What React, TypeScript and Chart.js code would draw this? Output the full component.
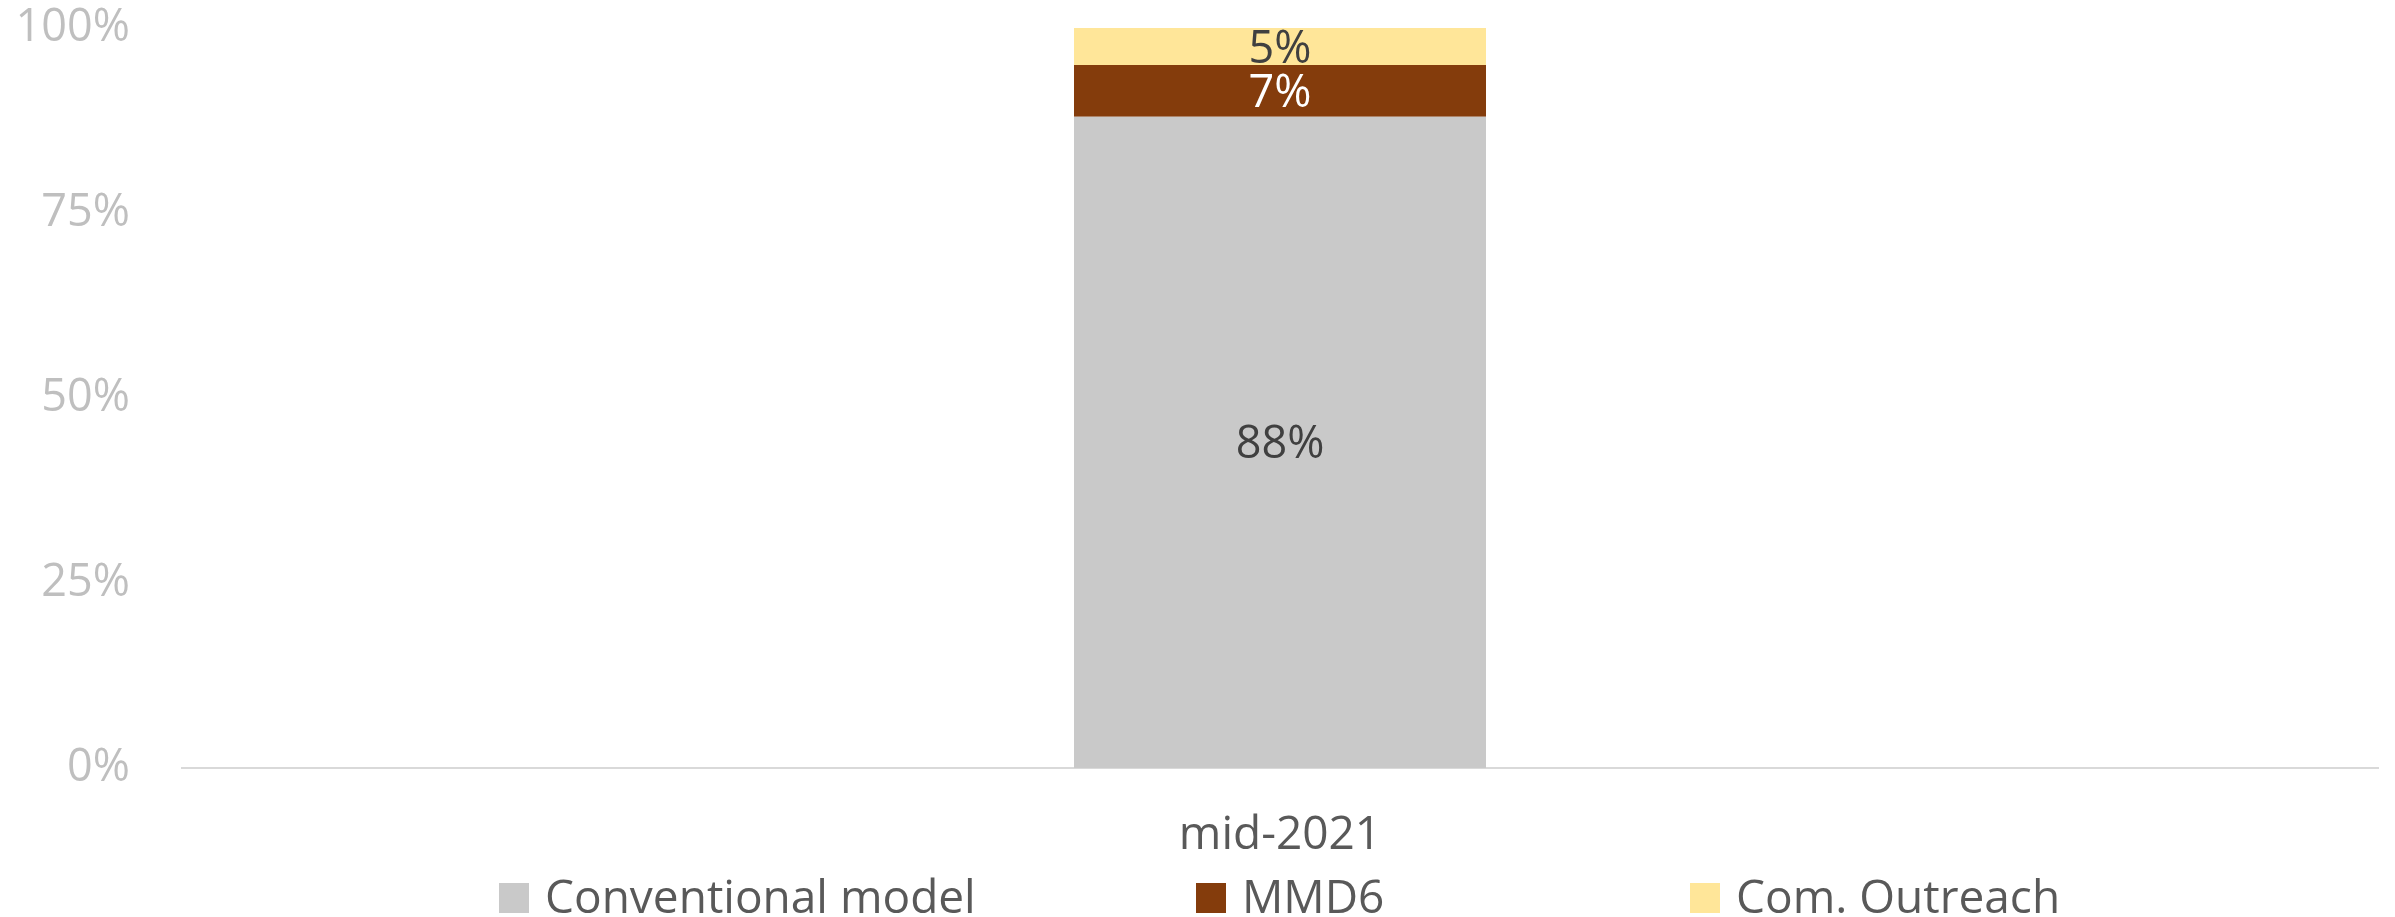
import React, { useEffect, useRef } from "react";
import { Chart, registerables } from "chart.js";

Chart.register(...registerables);

const categories = ["mid-2021"];
const seriesNames = ["Conventional model", "MMD6", "Com. Outreach"];
const conventionalValues = [88];
const mmd6Values = [7];
const outreachValues = [5];
const seriesColors = ["#C9C9C9", "#843C0C", "#FFE699"];
const labelColors = ["#404040", "#FFFFFF", "#404040"];
const yTickValues = [0, 25, 50, 75, 100];

const FONT = "'Open Sans', sans-serif";
const W = 2395;
const H = 917;

export default function App() {
  const ref = useRef<HTMLCanvasElement>(null);

  useEffect(() => {
    document.body.style.margin = "0";
    const canvas = ref.current;
    if (!canvas) return;

    const dataLabelPlugin = {
      id: "dataLabelPlugin",
      afterDatasetsDraw(chart: any) {
        const ctx = chart.ctx;
        ctx.save();
        ctx.font = `45px ${FONT}`;
        ctx.textAlign = "center";
        ctx.textBaseline = "alphabetic";
        chart.data.datasets.forEach((ds: any, i: number) => {
          const meta = chart.getDatasetMeta(i);
          meta.data.forEach((bar: any, j: number) => {
            const v = ds.data[j];
            const p = bar.getProps(["x", "y", "base"], true);
            const cy = (p.y + p.base) / 2;
            ctx.fillStyle = labelColors[i];
            ctx.fillText(`${v}%`, p.x, cy + 16);
          });
        });
        ctx.restore();
      },
    };

    const legendBoxX = [499, 1196, 1690];
    const legendPlugin = {
      id: "customLegend",
      afterDraw(chart: any) {
        const ctx = chart.ctx;
        ctx.save();
        ctx.font = `46px ${FONT}`;
        ctx.textAlign = "left";
        ctx.textBaseline = "alphabetic";
        const baseline = 913;
        chart.data.datasets.forEach((ds: any, i: number) => {
          const bx = legendBoxX[i];
          ctx.fillStyle = ds.backgroundColor;
          ctx.fillRect(bx, baseline - 30, 30, 30);
          ctx.fillStyle = "#595959";
          ctx.fillText(ds.label, bx + 46, baseline);
        });
        ctx.restore();
      },
    };

    const chart = new Chart(canvas, {
      type: "bar",
      data: {
        labels: categories,
        datasets: [
          { label: seriesNames[0], data: conventionalValues, backgroundColor: seriesColors[0] },
          { label: seriesNames[1], data: mmd6Values, backgroundColor: seriesColors[1] },
          { label: seriesNames[2], data: outreachValues, backgroundColor: seriesColors[2] },
        ],
      },
      options: {
        animation: false,
        responsive: false,
        devicePixelRatio: 1,
        layout: { padding: { top: 28, right: 17, left: 0, bottom: 0 } },
        datasets: {
          bar: { categoryPercentage: 1, barPercentage: 412 / 2196, borderWidth: 0 },
        },
        plugins: {
          legend: { display: false },
          tooltip: { enabled: false },
          title: { display: false },
        },
        scales: {
          x: {
            stacked: true,
            grid: { display: false, drawTicks: false },
            border: { display: true, color: "#D9D9D9", width: 2 },
            ticks: {
              color: "#595959",
              font: { family: FONT, size: 46 },
              padding: 40,
            },
            afterFit(scale: any) {
              scale.height = 149;
              scale.paddingLeft = 0;
              scale.paddingRight = 0;
            },
          },
          y: {
            stacked: true,
            min: 0,
            max: 100,
            afterBuildTicks(scale: any) {
              scale.ticks = yTickValues.map((v) => ({ value: v }));
            },
            grid: { display: false, drawTicks: false },
            border: { display: false },
            ticks: {
              color: "#BFBFBF",
              font: { family: FONT, size: 45 },
              padding: 52,
              callback: (v: any) => `${v}%`,
            },
            afterFit(scale: any) {
              scale.width = 182;
              scale.paddingTop = 0;
              scale.paddingBottom = 0;
            },
          },
        },
      },
      plugins: [dataLabelPlugin, legendPlugin],
    });

    return () => chart.destroy();
  }, []);

  return (
    <div style={{ width: W, height: H, background: "#fff", overflow: "hidden" }}>
      <canvas ref={ref} width={W} height={H} style={{ display: "block", width: W, height: H }} />
    </div>
  );
}
